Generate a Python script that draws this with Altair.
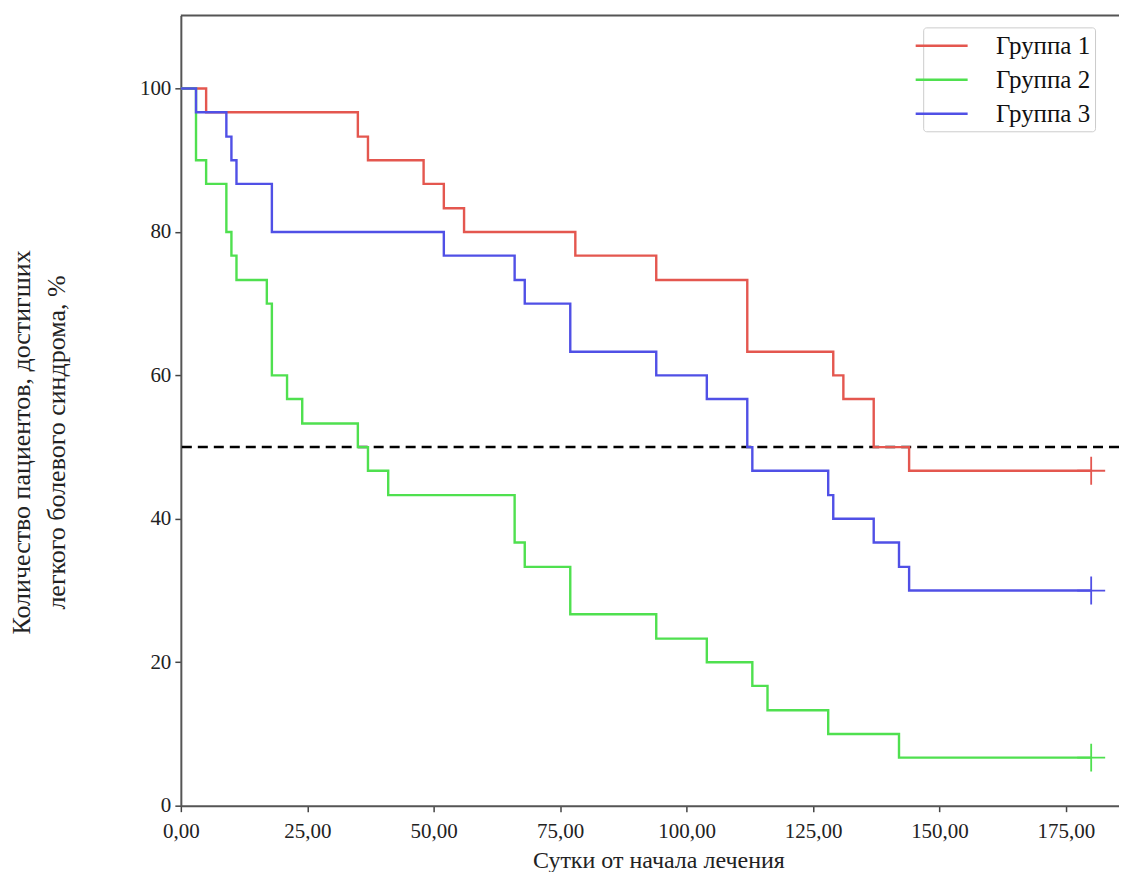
import altair as alt
import pandas as pd

groups = ["Группа 1", "Группа 2", "Группа 3"]
colors = ["#e4574f", "#4fe04f", "#5050e6"]

g1_days = [0, 5, 35, 37, 48, 52, 56, 78, 94, 112, 129, 131, 137, 144, 180]
g1_vals = [100, 96.7, 93.3, 90, 86.7, 83.3, 80, 76.7, 73.3, 63.3, 60, 56.7, 50, 46.7, 46.7]

g2_days = [0, 3, 5, 9, 10, 11, 17, 18, 21, 24, 35, 37, 41, 66, 68, 77, 94, 104, 113, 116, 128, 142, 180]
g2_vals = [100, 90, 86.7, 80, 76.7, 73.3, 70, 60, 56.7, 53.3, 50, 46.7, 43.3, 36.7, 33.3, 26.7, 23.3, 20, 16.7, 13.3, 10, 6.7, 6.7]

g3_days = [0, 3, 9, 10, 11, 18, 52, 66, 68, 77, 94, 104, 112, 113, 128, 129, 137, 142, 144, 180]
g3_vals = [100, 96.7, 93.3, 90, 86.7, 80, 76.7, 73.3, 70, 63.3, 60, 56.7, 50, 46.7, 43.3, 40, 36.7, 33.3, 30, 30]

censor_day = [180, 180, 180]
censor_vals = [46.7, 6.7, 30]
median_level = [50]

x_ticks = [0, 25, 50, 75, 100, 125, 150, 175]
y_ticks = [0, 20, 40, 60, 80, 100]

rows = []
for g, ds, vs in zip(groups, [g1_days, g2_days, g3_days], [g1_vals, g2_vals, g3_vals]):
    for d, v in zip(ds, vs):
        rows.append({"group": g, "day": d, "value": v})
df = pd.DataFrame(rows)
cens = pd.DataFrame({"group": groups, "day": censor_day, "value": censor_vals})
med = pd.DataFrame({"level": median_level})

FONT = "Liberation Serif"

xscale = alt.Scale(domain=[0, 185.5], nice=False, zero=False)
yscale = alt.Scale(domain=[0, 110.2], nice=False)
color = alt.Color(
    "group:N",
    scale=alt.Scale(domain=groups, range=colors),
    legend=alt.Legend(
        title=None,
        orient="none",
        legendX=743,
        legendY=12,
        symbolType="M-2,0L2,0",
        symbolSize=676,
        symbolStrokeWidth=2.5,
        labelFont=FONT,
        labelFontSize=25,
        labelColor="#111",
        labelOffset=40,
        rowPadding=6,
        padding=4,
        strokeColor="#cccccc",
        cornerRadius=3,
        fillColor="white",
    ),
)

xaxis = alt.Axis(
    values=x_ticks,
    labelExpr="replace(format(datum.value, '.2f'), '.', ',')",
    labelFlush=False,
    title="Сутки от начала лечения",
    titleFontSize=24,
    titleX=478,
    grid=False,
    tickSize=6,
    labelPadding=9,
    titlePadding=7,
)
yaxis = alt.Axis(
    values=y_ticks,
    format="d",
    title=["Количество пациентов, достигших", "легкого болевого синдрома, %"],
    titleFontSize=26,
    titleY=427,
    grid=False,
    tickSize=6,
    labelPadding=4,
    titlePadding=70,
    titleLineHeight=35,
)

lines = alt.Chart(df).mark_line(interpolate="step-after", strokeWidth=2.4).encode(
    x=alt.X("day:Q", scale=xscale, axis=xaxis),
    y=alt.Y("value:Q", scale=yscale, axis=yaxis),
    color=color,
)

marks = alt.Chart(cens).mark_point(
    shape="M-1,0L1,0M0,-1L0,1", size=784, filled=False, strokeWidth=1.8, opacity=1
).encode(
    x=alt.X("day:Q", scale=xscale),
    y=alt.Y("value:Q", scale=yscale),
    color=alt.Color("group:N", scale=alt.Scale(domain=groups, range=colors), legend=None),
)

rule = alt.Chart(med).mark_rule(color="black", strokeDash=[10, 6], strokeWidth=2.5).encode(
    y=alt.Y("level:Q", scale=yscale)
)

top = alt.Chart(med).mark_rule(color="#555555", strokeWidth=2).encode(y=alt.value(0))

chart = (
    alt.layer(rule, lines, marks, top)
    .properties(
        width=939,
        height=791,
        autosize=alt.AutoSizeParams(type="none"),
        padding={"left": 173, "top": 7, "right": 0, "bottom": 66},
    )
    .configure_view(stroke=None)
    .configure_axis(
        labelFont=FONT,
        titleFont=FONT,
        labelFontSize=21,
        labelColor="#222",
        titleColor="#222",
        titleFontWeight="normal",
        domainColor="#555555",
        domainWidth=2,
        tickColor="#444444",
        tickWidth=1.5,
    )
)

chart.save("out.html", embed_options={"renderer": "svg", "actions": False})
